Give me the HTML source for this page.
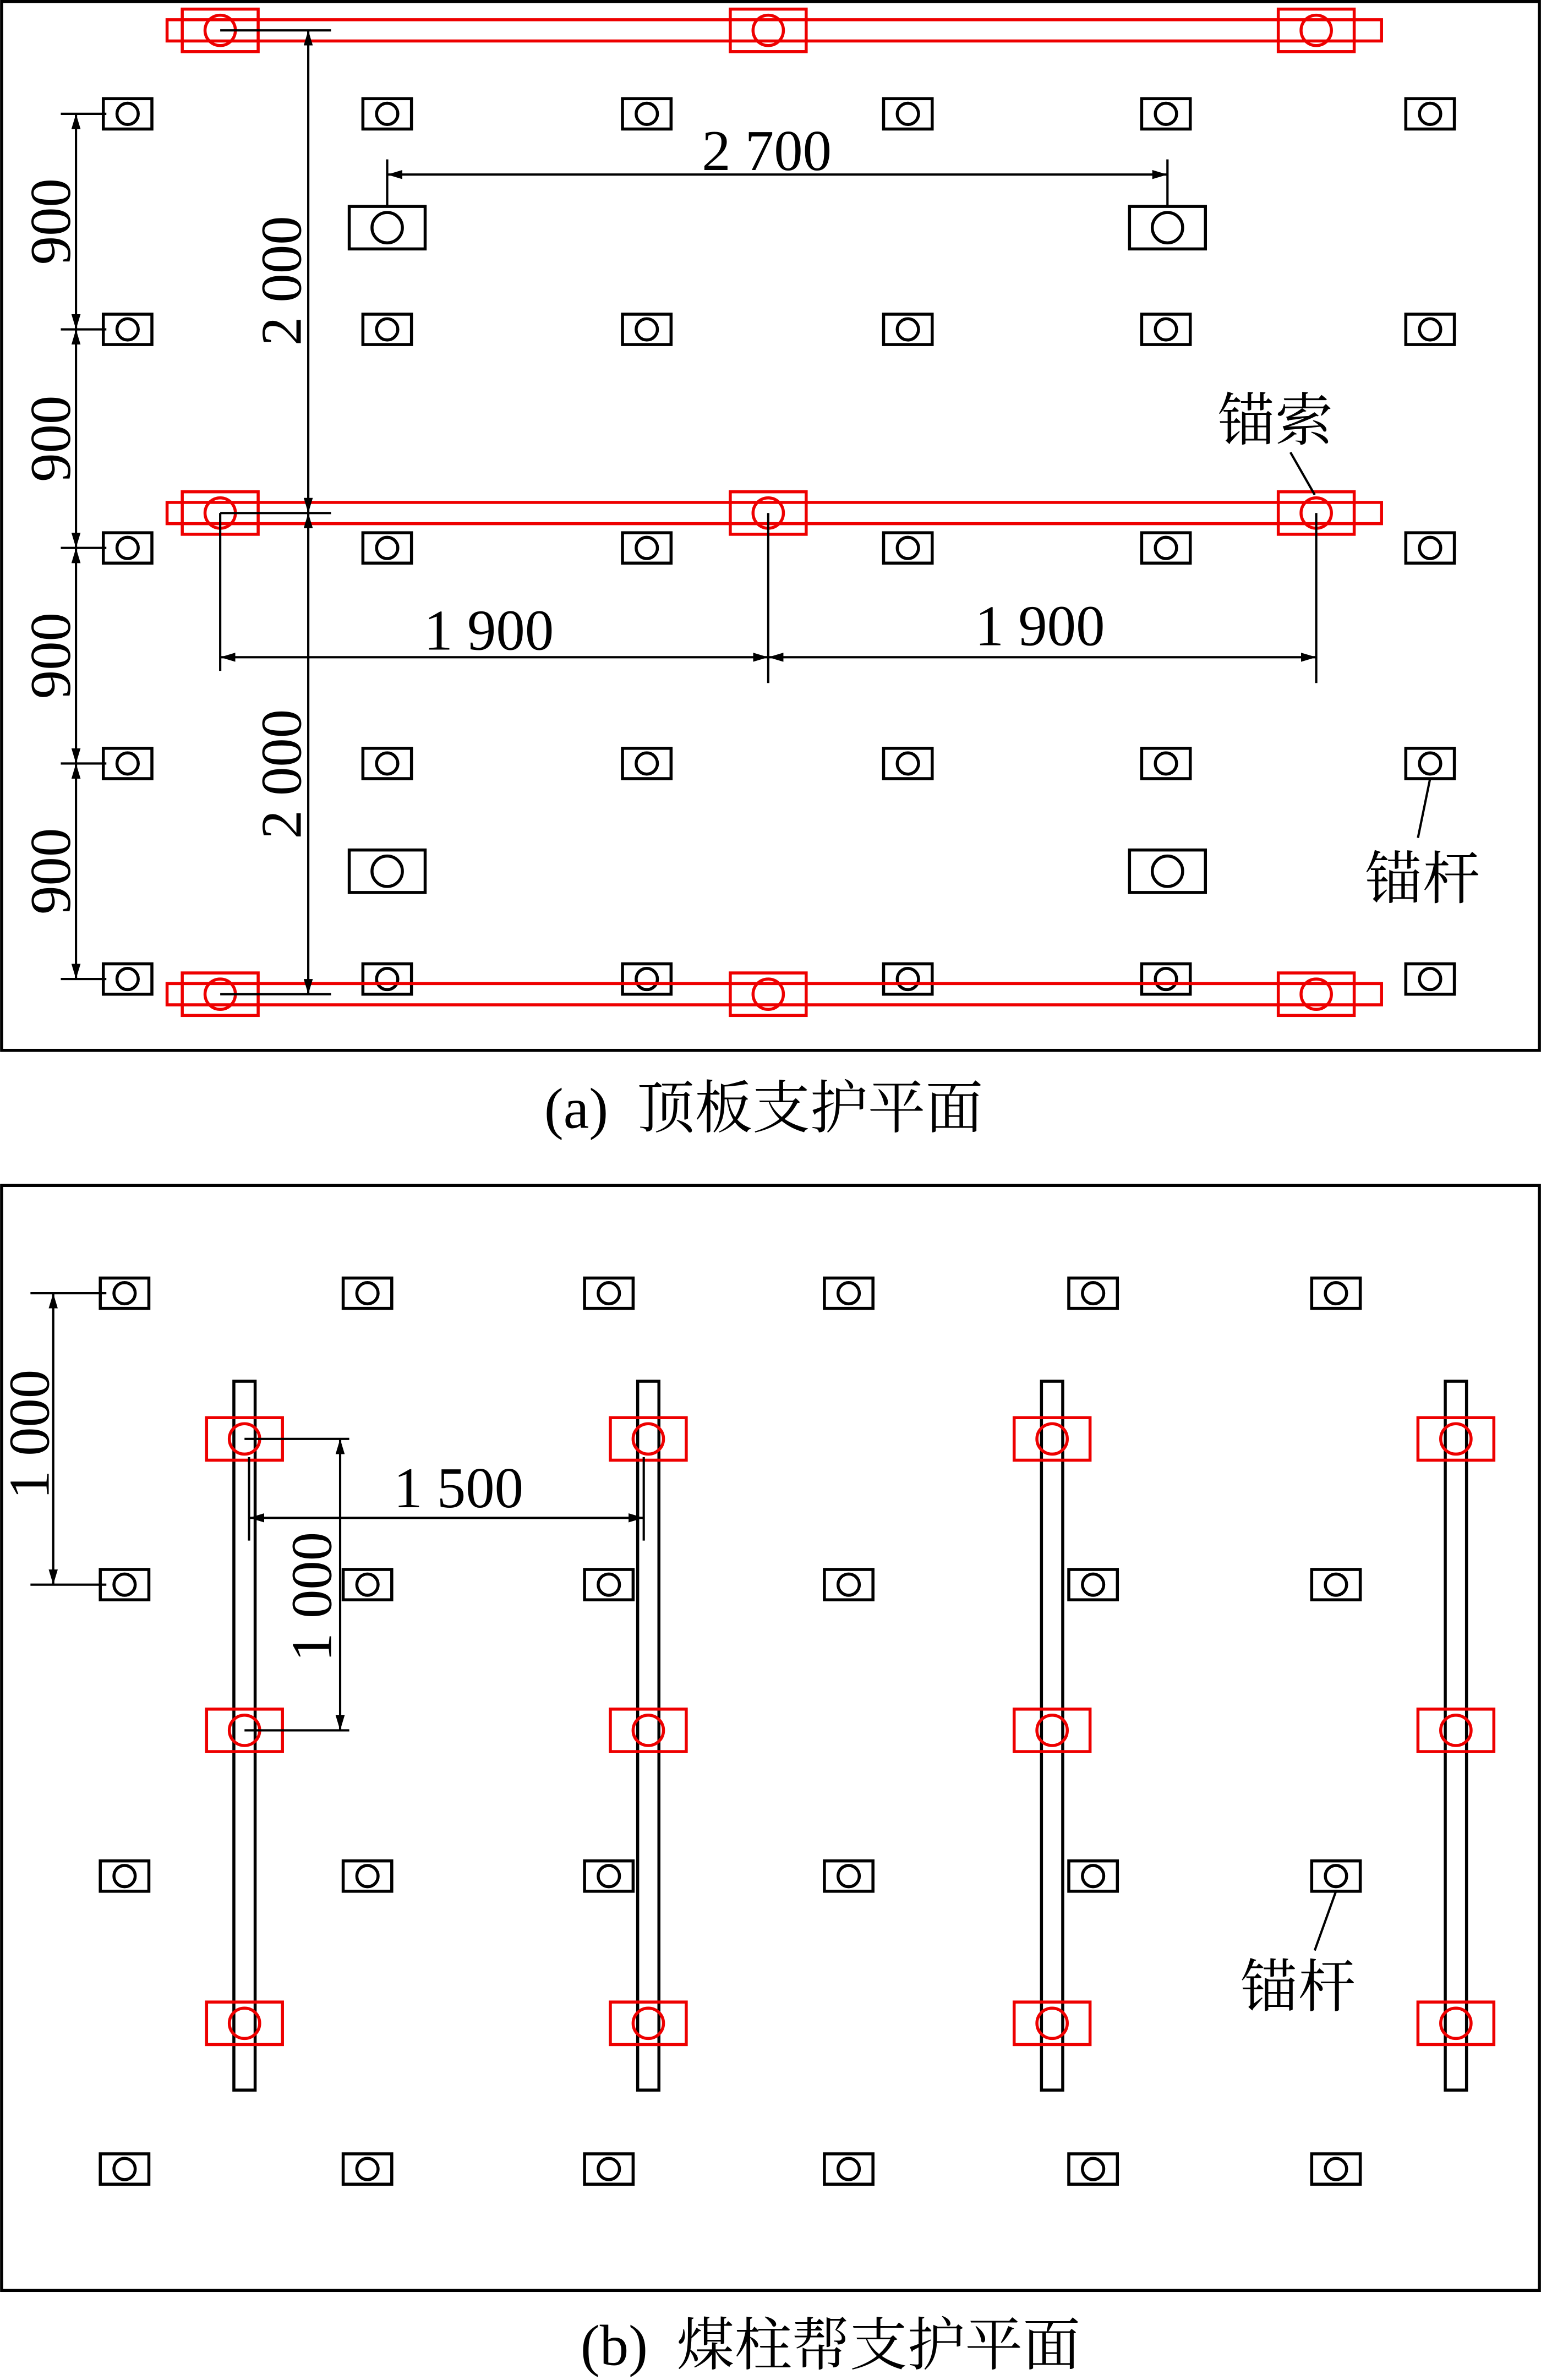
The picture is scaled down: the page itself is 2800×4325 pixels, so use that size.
<!DOCTYPE html>
<html><head><meta charset="utf-8">
<style>
html,body{margin:0;padding:0;background:#fff;}
svg{display:block;}
text{font-family:"Liberation Serif","Noto Serif CJK SC","Noto Sans CJK SC",serif;fill:#000;}
</style></head>
<body>
<svg width="2800" height="4325" viewBox="0 0 1015 1568" xmlns="http://www.w3.org/2000/svg">
<defs>
<g id="sb"><rect x="-16" y="-10" width="32" height="20" fill="#fff" stroke="#000" stroke-width="2"/><circle r="7" fill="none" stroke="#000" stroke-width="2"/></g>
<g id="lb"><rect x="-25" y="-14" width="50" height="28" fill="#fff" stroke="#000" stroke-width="2"/><circle r="10" fill="none" stroke="#000" stroke-width="2"/></g>
<g id="rp"><rect x="-25" y="-14" width="50" height="28" fill="none" stroke="#e00" stroke-width="2"/><circle r="10" fill="none" stroke="#e00" stroke-width="2"/></g>
<marker id="ar" viewBox="0 0 10 6" refX="10" refY="3" markerWidth="10" markerHeight="6" orient="auto-start-reverse" markerUnits="userSpaceOnUse"><path d="M0,0 L10,3 L0,6 z" fill="#000"/></marker>
</defs>
<rect width="1015" height="1568" fill="#fff"/>
<rect x="1" y="1" width="1013" height="691" fill="none" stroke="#000" stroke-width="2"/>
<g>
<use href="#sb" x="84" y="75"/><use href="#sb" x="255" y="75"/><use href="#sb" x="426" y="75"/><use href="#sb" x="598" y="75"/><use href="#sb" x="768" y="75"/><use href="#sb" x="942" y="75"/>
<use href="#sb" x="84" y="217"/><use href="#sb" x="255" y="217"/><use href="#sb" x="426" y="217"/><use href="#sb" x="598" y="217"/><use href="#sb" x="768" y="217"/><use href="#sb" x="942" y="217"/>
<use href="#sb" x="84" y="361"/><use href="#sb" x="255" y="361"/><use href="#sb" x="426" y="361"/><use href="#sb" x="598" y="361"/><use href="#sb" x="768" y="361"/><use href="#sb" x="942" y="361"/>
<use href="#sb" x="84" y="503"/><use href="#sb" x="255" y="503"/><use href="#sb" x="426" y="503"/><use href="#sb" x="598" y="503"/><use href="#sb" x="768" y="503"/><use href="#sb" x="942" y="503"/>
<use href="#sb" x="84" y="645"/><use href="#sb" x="255" y="645"/><use href="#sb" x="426" y="645"/><use href="#sb" x="598" y="645"/><use href="#sb" x="768" y="645"/><use href="#sb" x="942" y="645"/>
<use href="#lb" x="255" y="150"/><use href="#lb" x="769" y="150"/><use href="#lb" x="255" y="574"/><use href="#lb" x="769" y="574"/>
</g>
<g stroke="#e00" stroke-width="2" fill="none">
<rect x="110" y="13" width="800" height="14"/><rect x="110" y="331" width="800" height="14"/><rect x="110" y="648" width="800" height="14"/>
</g>
<use href="#rp" x="145" y="20"/><use href="#rp" x="506" y="20"/><use href="#rp" x="867" y="20"/>
<use href="#rp" x="145" y="338"/><use href="#rp" x="506" y="338"/><use href="#rp" x="867" y="338"/>
<use href="#rp" x="145" y="655"/><use href="#rp" x="506" y="655"/><use href="#rp" x="867" y="655"/>
<g stroke="#000" stroke-width="1.5" fill="none">
<line x1="40" y1="75" x2="70" y2="75"/><line x1="40" y1="217" x2="70" y2="217"/><line x1="40" y1="361" x2="70" y2="361"/><line x1="40" y1="503" x2="70" y2="503"/><line x1="40" y1="645" x2="70" y2="645"/>
<line x1="50" y1="75" x2="50" y2="217" marker-start="url(#ar)" marker-end="url(#ar)"/>
<line x1="50" y1="217" x2="50" y2="361" marker-start="url(#ar)" marker-end="url(#ar)"/>
<line x1="50" y1="361" x2="50" y2="503" marker-start="url(#ar)" marker-end="url(#ar)"/>
<line x1="50" y1="503" x2="50" y2="645" marker-start="url(#ar)" marker-end="url(#ar)"/>
<line x1="145" y1="20" x2="218" y2="20"/><line x1="145" y1="338" x2="218" y2="338"/><line x1="145" y1="655" x2="218" y2="655"/>
<line x1="203" y1="20" x2="203" y2="338" marker-start="url(#ar)" marker-end="url(#ar)"/>
<line x1="203" y1="338" x2="203" y2="655" marker-start="url(#ar)" marker-end="url(#ar)"/>
<line x1="255" y1="105" x2="255" y2="136"/><line x1="769" y1="105" x2="769" y2="136"/>
<line x1="255" y1="115" x2="769" y2="115" marker-start="url(#ar)" marker-end="url(#ar)"/>
<line x1="145" y1="338" x2="145" y2="442"/><line x1="506" y1="338" x2="506" y2="450"/><line x1="867" y1="338" x2="867" y2="450"/>
<line x1="145" y1="433" x2="506" y2="433" marker-start="url(#ar)" marker-end="url(#ar)"/>
<line x1="506" y1="433" x2="867" y2="433" marker-start="url(#ar)" marker-end="url(#ar)"/>
<line x1="850" y1="298" x2="866" y2="326"/>
<line x1="942" y1="513" x2="934" y2="552"/>
</g>
<g font-size="38">
<text x="505" y="112" text-anchor="middle">2 700</text>
<text x="322" y="428" text-anchor="middle">1 900</text>
<text x="685" y="425" text-anchor="middle">1 900</text>
<text transform="translate(46,146) rotate(-90)" text-anchor="middle">900</text>
<text transform="translate(46,289) rotate(-90)" text-anchor="middle">900</text>
<text transform="translate(46,432) rotate(-90)" text-anchor="middle">900</text>
<text transform="translate(46,574) rotate(-90)" text-anchor="middle">900</text>
<text transform="translate(198,185) rotate(-90)" text-anchor="middle">2 000</text>
<text transform="translate(198,510) rotate(-90)" text-anchor="middle">2 000</text>
<text x="840" y="290" text-anchor="middle">锚索</text>
<text x="937" y="592" text-anchor="middle">锚杆</text>
<text x="503" y="743" text-anchor="middle">(a)&#160;&#160;顶板支护平面</text>
</g>
<rect x="1" y="781" width="1013" height="728" fill="none" stroke="#000" stroke-width="2"/>
<g>
<use href="#sb" x="82" y="852"/><use href="#sb" x="242" y="852"/><use href="#sb" x="401" y="852"/><use href="#sb" x="559" y="852"/><use href="#sb" x="720" y="852"/><use href="#sb" x="880" y="852"/>
<use href="#sb" x="82" y="1044"/><use href="#sb" x="242" y="1044"/><use href="#sb" x="401" y="1044"/><use href="#sb" x="559" y="1044"/><use href="#sb" x="720" y="1044"/><use href="#sb" x="880" y="1044"/>
<use href="#sb" x="82" y="1236"/><use href="#sb" x="242" y="1236"/><use href="#sb" x="401" y="1236"/><use href="#sb" x="559" y="1236"/><use href="#sb" x="720" y="1236"/><use href="#sb" x="880" y="1236"/>
<use href="#sb" x="82" y="1429"/><use href="#sb" x="242" y="1429"/><use href="#sb" x="401" y="1429"/><use href="#sb" x="559" y="1429"/><use href="#sb" x="720" y="1429"/><use href="#sb" x="880" y="1429"/>
</g>
<g stroke="#000" stroke-width="2" fill="#fff">
<rect x="154" y="910" width="14" height="467"/><rect x="420" y="910" width="14" height="467"/><rect x="686" y="910" width="14" height="467"/><rect x="952" y="910" width="14" height="467"/>
</g>
<use href="#rp" x="161" y="948"/><use href="#rp" x="161" y="1140"/><use href="#rp" x="161" y="1333"/>
<use href="#rp" x="427" y="948"/><use href="#rp" x="427" y="1140"/><use href="#rp" x="427" y="1333"/>
<use href="#rp" x="693" y="948"/><use href="#rp" x="693" y="1140"/><use href="#rp" x="693" y="1333"/>
<use href="#rp" x="959" y="948"/><use href="#rp" x="959" y="1140"/><use href="#rp" x="959" y="1333"/>
<g stroke="#000" stroke-width="1.5" fill="none">
<line x1="20" y1="852" x2="70" y2="852"/><line x1="20" y1="1044" x2="70" y2="1044"/>
<line x1="35" y1="852" x2="35" y2="1044" marker-start="url(#ar)" marker-end="url(#ar)"/>
<line x1="161" y1="948" x2="230" y2="948"/><line x1="161" y1="1140" x2="230" y2="1140"/>
<line x1="224" y1="948" x2="224" y2="1140" marker-start="url(#ar)" marker-end="url(#ar)"/>
<line x1="164" y1="960" x2="164" y2="1015"/><line x1="424" y1="960" x2="424" y2="1015"/>
<line x1="164" y1="1000" x2="424" y2="1000" marker-start="url(#ar)" marker-end="url(#ar)"/>
<line x1="880" y1="1246" x2="866" y2="1285"/>
</g>
<g font-size="38">
<text transform="translate(32,945) rotate(-90)" text-anchor="middle">1 000</text>
<text transform="translate(218,1052) rotate(-90)" text-anchor="middle">1 000</text>
<text x="302" y="993" text-anchor="middle">1 500</text>
<text x="855" y="1322" text-anchor="middle">锚杆</text>
<text x="547" y="1558" text-anchor="middle">(b)&#160;&#160;煤柱帮支护平面</text>
</g>
</svg>
</body></html>
